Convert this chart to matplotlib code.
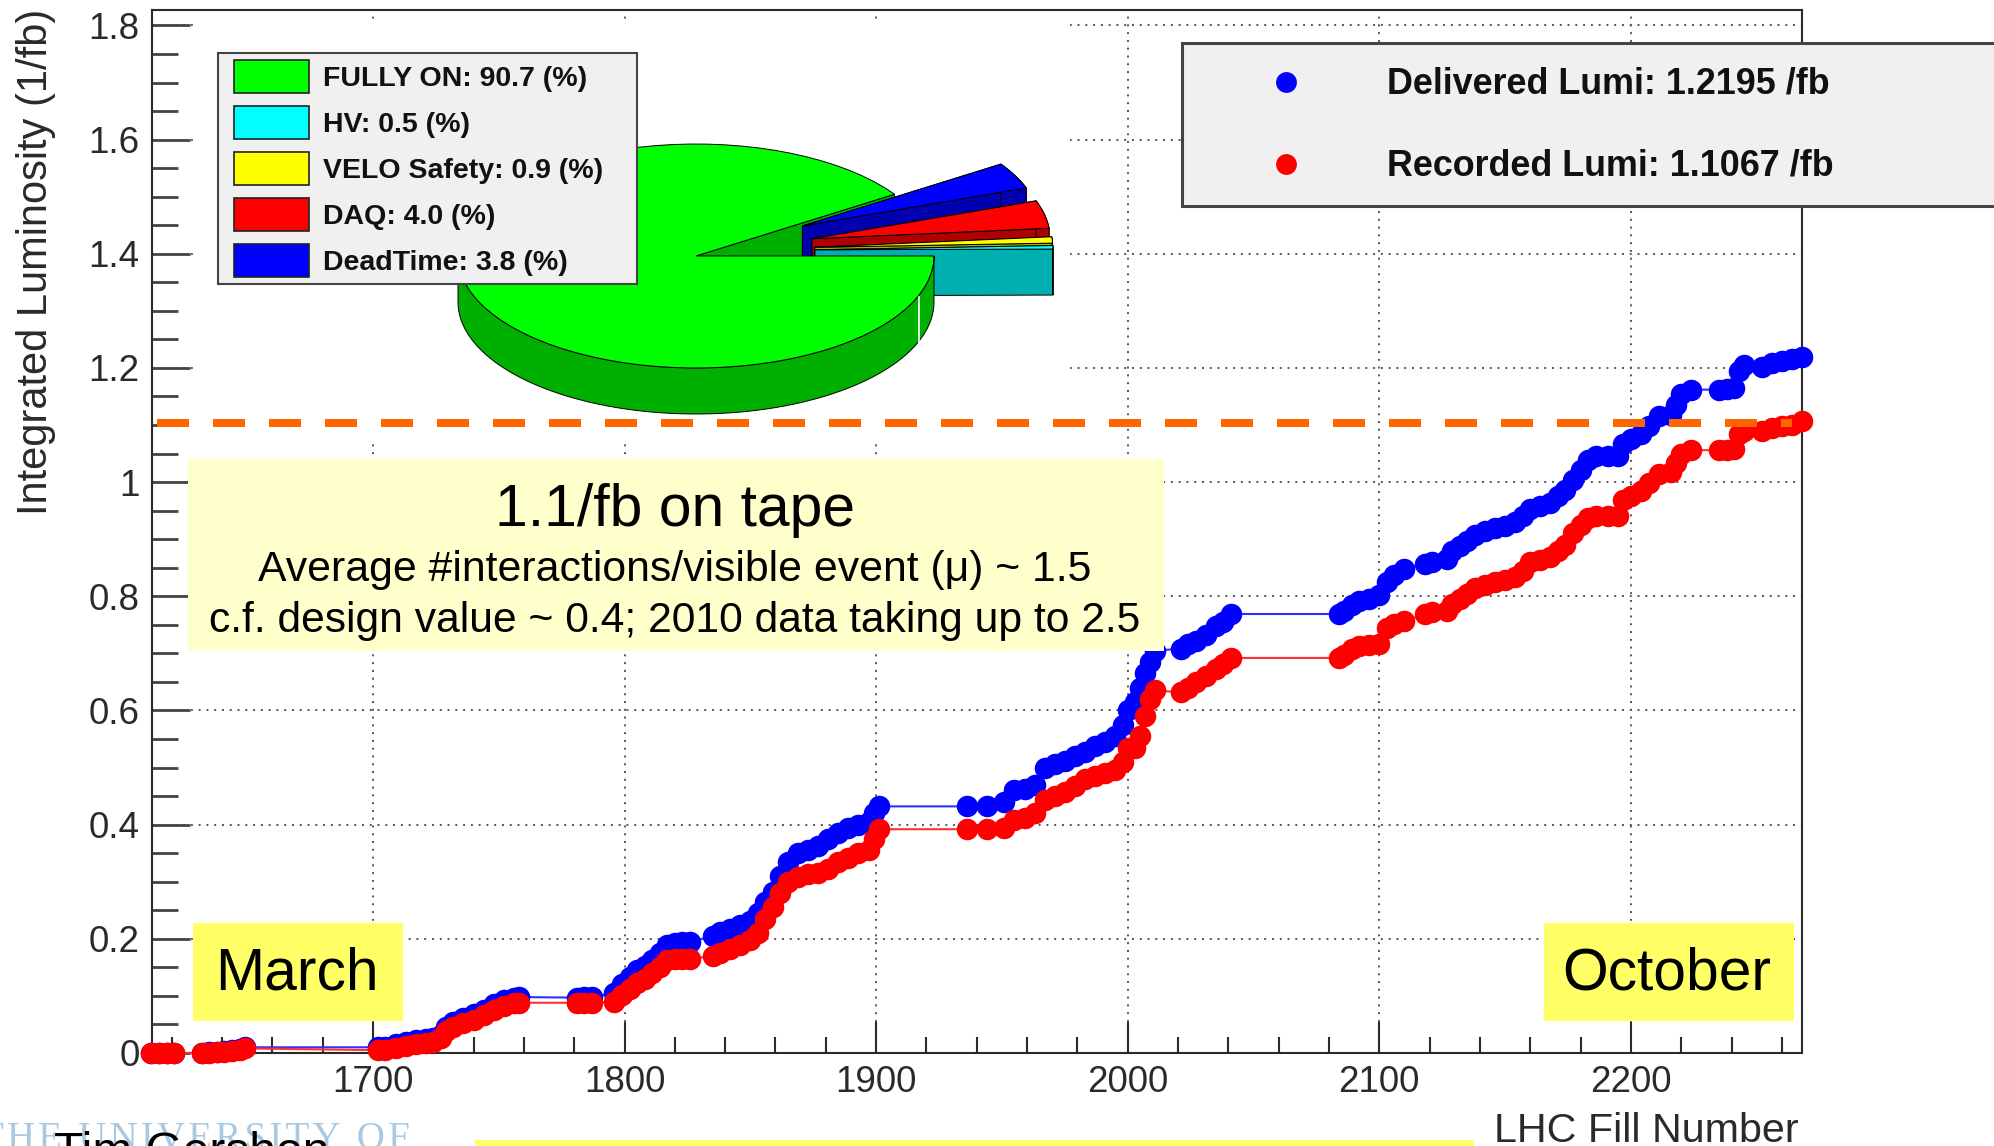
import numpy as np
import matplotlib
matplotlib.use("Agg")
import matplotlib.pyplot as plt
from matplotlib.patches import Rectangle, Polygon

plt.rcParams["font.family"] = ["Liberation Sans", "DejaVu Sans"]

# Values

fills = [
    1612, 1615, 1618, 1621, 1632, 1635, 1638, 1641, 1644, 1647, 1649,
    1702, 1705, 1709, 1713, 1717, 1721, 1724, 1727, 1729, 1732, 1736, 1740,
    1744, 1748, 1752, 1756, 1758, 1781, 1784, 1787, 1796, 1799, 1802, 1805,
    1808, 1811, 1814, 1817, 1820, 1823, 1826, 1835, 1838, 1842, 1846, 1850,
    1853, 1856, 1859, 1862, 1865, 1869, 1873, 1877, 1881, 1885, 1889, 1893,
    1897, 1899, 1901, 1936, 1944, 1951, 1955, 1959, 1963, 1967, 1971, 1975,
    1979, 1983, 1987, 1991, 1995, 1998, 2000, 2003, 2005, 2007, 2009, 2011,
    2021, 2024, 2027, 2031, 2035, 2038, 2041, 2084, 2086, 2089, 2092, 2096,
    2100, 2103, 2106, 2110, 2118, 2121, 2127, 2129, 2132, 2135, 2138, 2142,
    2146, 2150, 2154, 2157, 2160, 2164, 2168, 2171, 2174, 2177, 2180, 2183,
    2186, 2191, 2195, 2197, 2200, 2204, 2207, 2211, 2216, 2218, 2220, 2224, 2235,
    2238, 2241, 2243, 2245, 2252, 2256, 2260, 2264, 2268,
]
delivered = [
    0, 0, 0, 0, 0, .001, .002, .003, .005, .007, .010,
    .010, .011, .015, .019, .022, .024, .026, .032, .045, .055, .062, .068,
    .076, .085, .092, .097, .098, .097, .098, .098, .105, .120, .133, .145,
    .153, .163, .176, .189, .193, .194, .194, .205, .212, .218, .225, .232,
    .245, .265, .282, .310, .335, .350, .356, .362, .375, .385, .395, .400,
    .404, .420, .432, .432, .432, .440, .460, .462, .470, .500, .507, .512,
    .520, .528, .538, .545, .555, .575, .600, .615, .640, .665, .685, .705,
    .708, .716, .722, .732, .748, .755, .769, .769, .775, .785, .792, .795,
    .802, .825, .838, .848, .857, .860, .866, .880, .888, .897, .908, .915,
    .920, .924, .930, .940, .953, .958, .964, .975, .986, 1.003, 1.022, 1.038,
    1.045, 1.045, 1.045, 1.066, 1.075, 1.085, 1.098, 1.115, 1.118, 1.135, 1.155, 1.162, 1.162,
    1.163, 1.165, 1.195, 1.205, 1.202, 1.208, 1.213, 1.215, 1.2195,
]
recorded = [
    0, 0, 0, 0, 0, 0, .001, .002, .003, .005, .008,
    .005, .006, .009, .013, .016, .018, .020, .026, .038, .046, .052, .058,
    .066, .075, .082, .088, .088, .088, .088, .088, .090, .102, .112, .122,
    .130, .140, .150, .163, .165, .165, .165, .170, .175, .182, .190, .198,
    .210, .235, .255, .280, .300, .308, .313, .316, .322, .335, .342, .350,
    .356, .375, .392, .392, .392, .395, .408, .412, .420, .444, .450, .458,
    .468, .480, .486, .490, .495, .510, .535, .535, .555, .590, .620, .635,
    .632, .640, .650, .660, .672, .682, .692, .692, .698, .708, .713, .714,
    .716, .745, .752, .756, .769, .772, .775, .787, .796, .804, .814, .820,
    .825, .828, .834, .845, .860, .864, .868, .880, .890, .910, .925, .937,
    .941, .941, .941, .968, .975, .984, .998, 1.015, 1.018, 1.033, 1.050, 1.056, 1.056,
    1.056, 1.058, 1.085, 1.090, 1.090, 1.094, 1.098, 1.100, 1.1067,
]

target_lumi = 1.103
target_fills = [1614.2, 2264]

x_major = [1700, 1800, 1900, 2000, 2100, 2200]
y_major = [0, 0.2, 0.4, 0.6, 0.8, 1.0, 1.2, 1.4, 1.6, 1.8]
y_labels = ["0", "0.2", "0.4", "0.6", "0.8", "1", "1.2", "1.4", "1.6", "1.8"]

pie_labels = ["FULLY ON", "HV", "VELO Safety", "DAQ", "DeadTime"]
pie_values = [90.7, 0.5, 0.9, 4.0, 3.8]
pie_tops = ["#00ff00", "#00ffff", "#ffff00", "#ff0000", "#0000ff"]
pie_walls = ["#00b000", "#00b0b0", "#b0b000", "#b00000", "#0000b0"]

W, H = 1994, 1146
INK = "#2a2a2a"

fig = plt.figure(figsize=(W / 100, H / 100), dpi=100, facecolor="white")


# Luminosity curves

ax = fig.add_axes([152 / W, (H - 1053) / H, 1650 / W, 1043 / H])
ax.set_xlim(1612.2, 2268)
ax.set_ylim(0, 1.827)
ax.set_axisbelow(True)

ax.plot(fills, delivered, color="#3030ff", lw=1.5, marker="o", ms=15.5, mfc="#0000ff",
        mec="none", clip_on=False, zorder=3)
ax.plot(fills, recorded, color="#ff3030", lw=1.5, marker="o", ms=15.5, mfc="#ff0000",
        mec="none", clip_on=False, zorder=4)

ax.set_xticks(x_major)
ax.set_xticks(np.arange(1620, 2268, 20), minor=True)
ax.set_yticks(y_major)
ax.set_yticklabels(y_labels)
ax.set_yticks(np.arange(0, 1.83, 0.05), minor=True)
ax.grid(True, which="major", color="#555555", lw=1.4, linestyle=(0, (1, 3)))

ax.tick_params(axis="x", which="major", direction="in", length=22, width=1.5, color=INK,
               labelsize=26.5, labelcolor=INK, pad=9)
ax.tick_params(axis="x", which="minor", direction="in", length=11.5, width=1.5, color=INK)
ax.tick_params(axis="y", which="major", direction="in", length=27, width=2, color="#444444",
               labelsize=26.5, labelcolor=INK, pad=9)
ax.tick_params(axis="y", which="minor", direction="in", length=19, width=2, color="#444444")
for spine in ax.spines.values():
    spine.set_linewidth(1.5)
    spine.set_color(INK)


# Everything pasted over the plot, placed in picture pixels

ov = fig.add_axes([0, 0, 1, 1], facecolor="none")
ov.set_xlim(0, W)
ov.set_ylim(H, 0)
ov.axis("off")

# white pad behind the pie hides the grid
ov.add_patch(Rectangle((193, 22), 877, 419, fc="white", ec="none", zorder=1))

CX, CY, RX, RY, DEPTH = 696, 256, 238, 112, 46


def arc(cx, cy, a0, a1):
    t = np.radians(np.linspace(a0, a1, 80))
    return np.column_stack([cx + RX * np.cos(t), cy - RY * np.sin(t)])


def drop(points):
    return points + np.array([0, DEPTH])


def wall(points, color, z):
    ring = np.vstack([points, drop(points)[::-1]])
    ov.add_patch(Polygon(ring, fc=color, ec="black", lw=0.7, zorder=z))


notch = 360 * (100 - pie_values[0]) / 100
apex = np.array([[CX, CY]])

# cut face of the big slice, seen through the notch
wall(np.vstack([apex, arc(CX, CY, notch, notch)[:1]]), pie_walls[0], 2)

# exploded slices, back to front
start = notch
z = 3
for i in [4, 3, 2, 1]:
    sweep = 360 * pie_values[i] / 100
    end = max(start - sweep, 0)
    mid = np.radians((start + end) / 2)
    ox = CX + 0.5 * RX * np.cos(mid)
    oy = CY - 0.5 * RY * np.sin(mid) - 5
    rim = arc(ox, oy, start, end)
    tip = np.array([[ox, oy]])
    wall(np.vstack([tip, rim[:1]]), pie_walls[i], z)
    wall(np.vstack([tip, rim[-1:]]), pie_walls[i], z)
    wall(rim, pie_walls[i], z)
    ov.add_patch(Polygon(np.vstack([tip, rim]), fc=pie_tops[i], ec="black", lw=0.7, zorder=z + 0.5))
    start = end
    z += 1

# big slice on top
wall(arc(CX, CY, 180, 360), pie_walls[0], 8)
ov.add_patch(Polygon(np.vstack([apex, arc(CX, CY, notch, 360)]), fc=pie_tops[0], ec="black",
                     lw=0.7, zorder=9))
ov.plot([919, 919], [297, 342], color="white", lw=1.2, zorder=9)

# pie legend
ov.add_patch(Rectangle((218, 53), 419, 231, fc="#f0f0f0", ec="#444444", lw=1.5, zorder=10))
for row, (label, value, color) in enumerate(zip(pie_labels, pie_values, pie_tops)):
    y = 77 + 46 * row
    ov.add_patch(Rectangle((234, y - 17), 75, 33, fc=color, ec="#222222", lw=1.2, zorder=11))
    ov.text(323, y + 1.5, f"{label}: {value} (%)", fontsize=20.5, fontweight="bold", color="#111111",
            va="center", ha="left", zorder=11)

# lumi legend
ov.add_patch(Rectangle((1182, 43), 900, 163, fc="#f0f0f0", ec="#444444", lw=2.2, zorder=10,
                       clip_on=True))
ov.plot([1286], [82], "o", color="#0000ff", ms=15, mec="none", zorder=11)
ov.plot([1286], [164], "o", color="#ff0000", ms=15, mec="none", zorder=11)
ov.text(1387, 84.5, "Delivered Lumi: 1.2195 /fb", fontsize=25.8, fontweight="bold", color="#111111",
        va="center", ha="left", zorder=11)
ov.text(1387, 166.5, "Recorded Lumi: 1.1067 /fb", fontsize=25.8, fontweight="bold", color="#111111",
        va="center", ha="left", zorder=11)

# annotation boxes
ov.add_patch(Rectangle((188, 459), 976, 192, fc="#ffffcc", ec="none", zorder=12))
ov.text(675, 526, "1.1/fb on tape", fontsize=42.3, ha="center", va="baseline", color="black", zorder=13)
ov.text(675, 581, "Average #interactions/visible event (μ) ~ 1.5", fontsize=30.8, ha="center",
        va="baseline", color="black", zorder=13)
ov.text(675, 632, "c.f. design value ~ 0.4; 2010 data taking up to 2.5", fontsize=30.7, ha="center",
        va="baseline", color="black", zorder=13)

ov.add_patch(Rectangle((193, 923), 210, 98, fc="#ffff66", ec="none", zorder=12))
ov.text(297, 990, "March", fontsize=42.3, ha="center", va="baseline", color="black", zorder=13)
ov.add_patch(Rectangle((1544, 923), 250, 98, fc="#ffff66", ec="none", zorder=12))
ov.text(1667, 990, "October", fontsize=42.3, ha="center", va="baseline", color="black", zorder=13)
ov.add_patch(Rectangle((475, 1140), 999, 10, fc="#ffff66", ec="none", zorder=12))

# axis titles
ov.text(36, 262, "Integrated Luminosity (1/fb)", fontsize=30, rotation=90, ha="center", va="center",
        color=INK, zorder=13)
ov.text(1798, 1131, "LHC Fill Number", fontsize=29.7, ha="right", va="center", color=INK, zorder=13)

# slide footer cut by the picture edge
ov.text(410, 1149, "\u200a".join("THE UNIVERSITY OF"), fontsize=28,
        family=["Liberation Serif", "DejaVu Serif"], ha="right", va="baseline", color="#a9c8e2",
        zorder=13)
ov.text(54, 1166, "Tim Gershon", fontsize=34.5, ha="left", va="baseline", color="black", zorder=14)


# Target line above the curves and boxes

ax2 = fig.add_axes(ax.get_position(), facecolor="none", sharex=ax, sharey=ax)
ax2.axis("off")
ax2.plot(target_fills, [target_lumi, target_lumi], color="#ff6600", lw=5.76,
         linestyle=(0, (4, 3)), dash_capstyle="butt", clip_on=False)

fig.savefig("out.png", dpi=100)
